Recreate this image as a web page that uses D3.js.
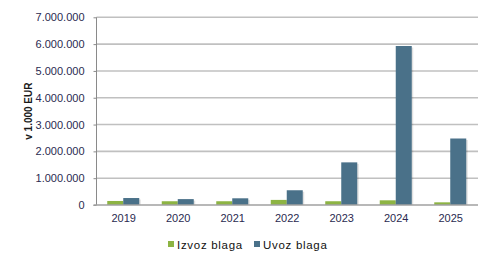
<!DOCTYPE html>
<html><head><meta charset="utf-8">
<script src="https://cdn.jsdelivr.net/npm/d3@7"></script>
<style>body{margin:0;background:#fff;} svg{display:block;font-family:"Liberation Sans",Arial,sans-serif;}</style>
</head><body><svg id="c" width="492" height="267"></svg>
<script>
const years = ["2019","2020","2021","2022","2023","2024","2025"];
const izvoz = [150000,140000,140000,190000,140000,175000,100000];
const uvoz = [260000,220000,250000,550000,1590000,5930000,2480000];
const seriesNames = ["Izvoz blaga","Uvoz blaga"];
const colors = ["#8db443","#4a7189"];
const yTicks = [0,1000000,2000000,3000000,4000000,5000000,6000000,7000000];

const svg = d3.select("#c");
const m = {l:96.5, r:14, t:17.3, b:62};
const W = 492, H = 267;
const x = d3.scaleBand().domain(years).range([m.l, W - m.r]);
const y = d3.scaleLinear().domain([0,7000000]).range([H - m.b, m.t]);
const fmt = v => v === 0 ? "0" : d3.format(",")(v).replace(/,/g, ".");

// gridlines
svg.append("g").selectAll("line").data(yTicks.filter(d=>d>0)).join("line")
  .attr("x1", m.l).attr("x2", W - m.r)
  .attr("y1", d=>y(d)).attr("y2", d=>y(d))
  .attr("stroke", "#c0c0c0").attr("stroke-width", 1.6);

// y axis
const ya = svg.append("g").attr("transform", `translate(${m.l},0)`)
  .call(d3.axisLeft(y).tickValues(yTicks).tickFormat(fmt).tickSize(3).tickPadding(9));
ya.select(".domain").attr("stroke", "#8a8a8a").attr("d", `M0,${y(7000000)}V${y(0)}`);
ya.selectAll(".tick line").attr("stroke", "#8a8a8a");
ya.selectAll("text").attr("font-size", "11px").attr("fill", "#2a2a50")
  .attr("font-family", "Liberation Sans, Arial, sans-serif");

// bars
const bw = 16;
const groups = svg.append("g").selectAll("g").data(years).join("g")
  .attr("transform", d => `translate(${x(d) + x.bandwidth()/2 - 0.5},0)`);
const vals = [izvoz, uvoz];
vals.forEach((arr, si) => {
  groups.append("rect")
    .attr("x", (d,i) => (si === 0 ? -bw : 0) + 1.5)
    .attr("y", (d,i) => y(arr[years.indexOf(d)]) + 1.5)
    .attr("width", bw).attr("height", (d) => y(0) - y(arr[years.indexOf(d)]) - 1.5)
    .attr("fill", "#000").attr("opacity", 0.12);
});
vals.forEach((arr, si) => {
  groups.append("rect")
    .attr("x", si === 0 ? -bw : 0)
    .attr("y", d => y(arr[years.indexOf(d)]))
    .attr("width", bw)
    .attr("height", d => y(0) - y(arr[years.indexOf(d)]))
    .attr("fill", colors[si]);
});

// x axis baseline
svg.append("line").attr("x1", m.l - 3).attr("x2", W - m.r)
  .attr("y1", y(0)).attr("y2", y(0)).attr("stroke", "#a0a0a0").attr("stroke-width", 1.6);

// x labels
svg.append("g").selectAll("text").data(years).join("text")
  .attr("x", d => x(d) + x.bandwidth()/2).attr("y", y(0) + 17)
  .attr("text-anchor", "middle").attr("font-size", "11px").attr("fill", "#2a2a50")
  .text(d => d);

// y title
svg.append("text").attr("transform", `translate(32,${(y(0)+y(7000000))/2}) rotate(-90)`)
  .attr("text-anchor", "middle").attr("font-size", "10px").attr("font-weight", "bold")
  .attr("fill", "#1a1a1a").text("v 1.000 EUR");

// legend
const lg = svg.append("g");
const lx = [168, 254];
seriesNames.forEach((n, i) => {
  lg.append("rect").attr("x", lx[i]).attr("y", 241).attr("width", 6).attr("height", 6).attr("fill", colors[i]);
  lg.append("text").attr("x", lx[i] + 9).attr("y", 249).attr("font-size", "11.5px")
    .attr("fill", "#111").attr("letter-spacing", "0.7px").text(n);
});
</script></body></html>
